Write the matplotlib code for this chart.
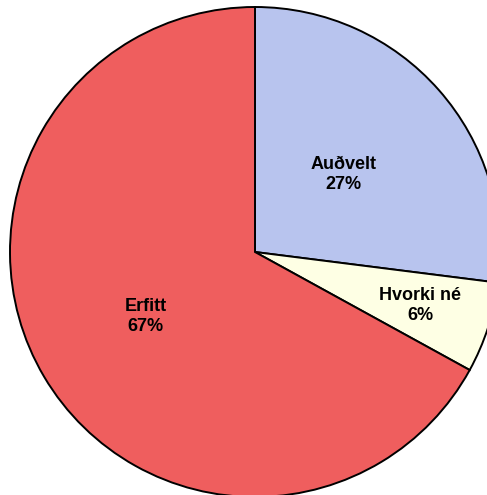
import matplotlib.pyplot as plt
import numpy as np

labels = ['Auðvelt', 'Hvorki né', 'Erfitt']
values = [27, 6, 67]
colors = ['#B8C4EE', '#FEFFE4', '#EF5E5E']
label_r = [0.48, 0.71, 0.52]

plt.rcParams['font.family'] = ['Liberation Sans', 'DejaVu Sans']

fig = plt.figure(figsize=(4.87, 4.95), dpi=100)
ax = fig.add_axes([0, 0, 1, 1])

wedges, _ = ax.pie(values, colors=colors, startangle=90, counterclock=False,
                   wedgeprops=dict(edgecolor='black', linewidth=1.4))

for w, lab, v, r in zip(wedges, labels, values, label_r):
    ang = np.deg2rad((w.theta1 + w.theta2) / 2)
    ax.text(r * np.cos(ang), r * np.sin(ang), f'{lab}\n{v}%',
            ha='center', va='center', fontsize=13, fontweight='bold',
            linespacing=1.25)

# centre at (255, 252) px, radius 245 px
ax.set_xlim(-255 / 245, 232 / 245)
ax.set_ylim(-243 / 245, 252 / 245)
ax.set_aspect('auto')
ax.axis('off')

fig.savefig('out.png', dpi=100)
